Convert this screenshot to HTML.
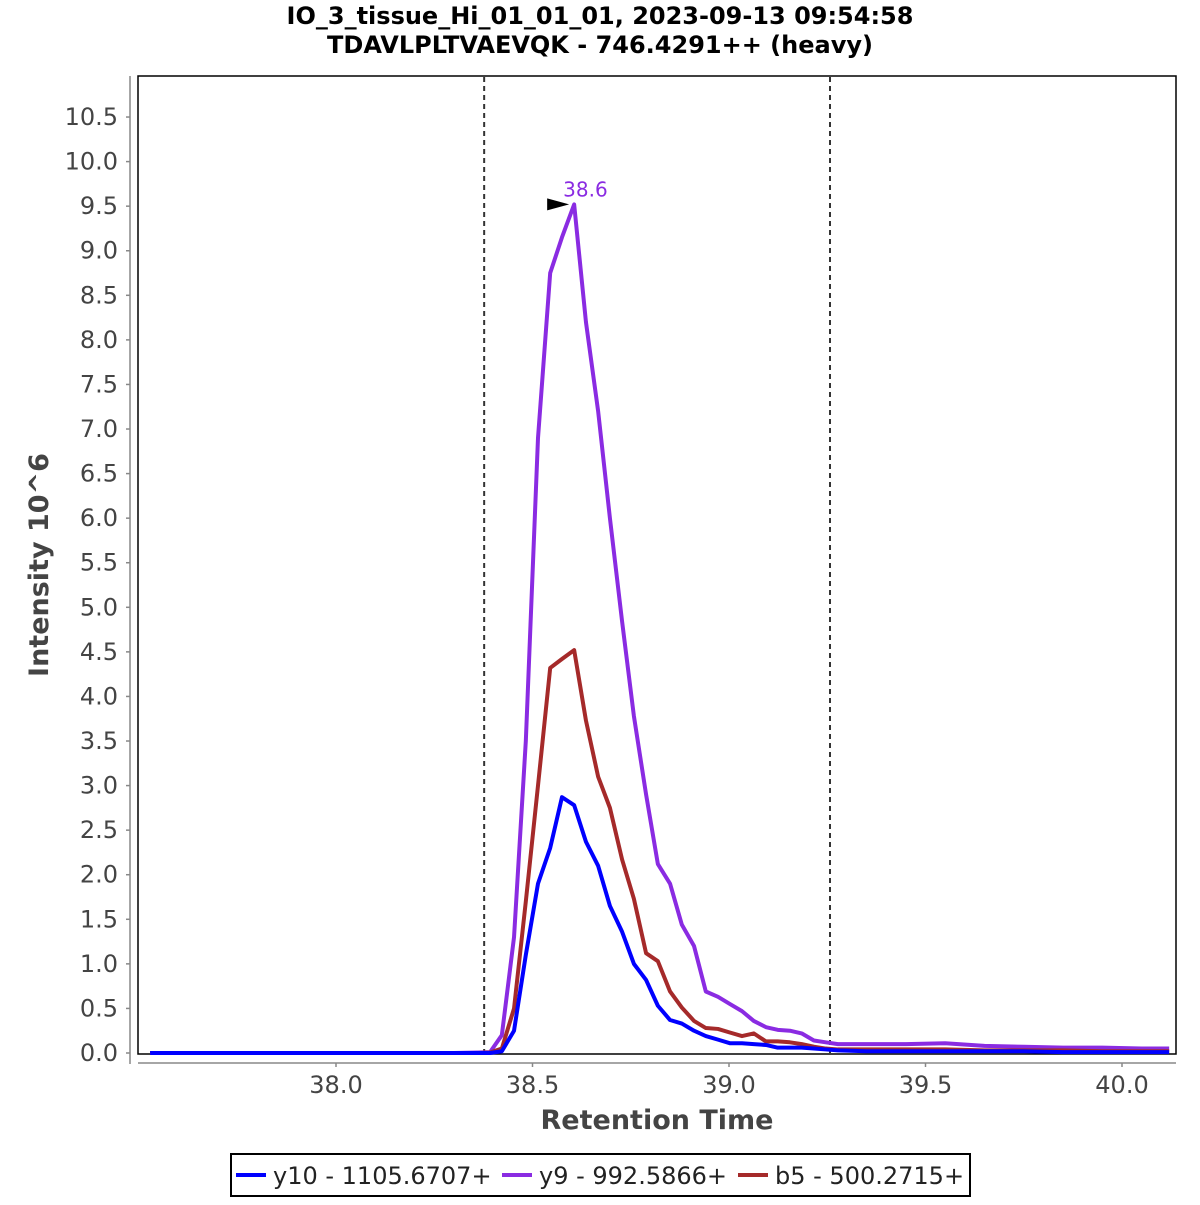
<!DOCTYPE html>
<html><head><meta charset="utf-8"><style>
body{margin:0;background:#fff;width:1200px;height:1200px;overflow:hidden}
svg text{font-family:"DejaVu Sans","Liberation Sans",sans-serif}
</style></head><body>
<svg id="chart" width="1200" height="1200" xmlns="http://www.w3.org/2000/svg">
<text x="600" y="24" text-anchor="middle" font-size="24" font-weight="bold">IO_3_tissue_Hi_01_01_01, 2023-09-13 09:54:58</text>
<text x="600" y="53" text-anchor="middle" font-size="24" font-weight="bold">TDAVLPLTVAEVQK - 746.4291++ (heavy)</text>
<rect x="138" y="76" width="1038" height="978" fill="#fff" stroke="#000" stroke-width="1.5"/>
<g id="yaxis"></g>
<g id="xaxis"></g>
<g id="series"></g>
<text transform="translate(48,565) rotate(-90)" text-anchor="middle" font-size="27" font-weight="bold" fill="#444">Intensity 10^6</text>
<text x="657" y="1129" text-anchor="middle" font-size="27" font-weight="bold" fill="#444">Retention Time</text>
<g>
<rect x="231" y="1154" width="739" height="42" fill="#fff" stroke="#000" stroke-width="2"/>
<line x1="236" y1="1175" x2="266" y2="1175" stroke="#0000ff" stroke-width="4"/>
<text x="273" y="1184" font-size="24" fill="#222">y10 - 1105.6707+</text>
<line x1="502" y1="1175" x2="532" y2="1175" stroke="#8a2be2" stroke-width="4"/>
<text x="539" y="1184" font-size="24" fill="#222">y9 - 992.5866+</text>
<line x1="738" y1="1175" x2="768" y2="1175" stroke="#a52a2a" stroke-width="4"/>
<text x="775" y="1184" font-size="24" fill="#222">b5 - 500.2715+</text>
</g>
</svg>
<script>
const times=[37.527,38.0,38.3,38.362,38.392,38.422,38.453,38.483,38.514,38.545,38.575,38.606,38.636,38.667,38.697,38.728,38.758,38.789,38.819,38.850,38.880,38.911,38.941,38.972,39.002,39.033,39.063,39.094,39.124,39.155,39.185,39.216,39.246,39.277,39.35,39.45,39.55,39.65,39.75,39.85,39.95,40.05,40.12];
const y10=[0,0,0,0,0,0.02,0.25,1.1,1.9,2.3,2.87,2.78,2.37,2.1,1.65,1.36,1.0,0.82,0.53,0.37,0.33,0.25,0.19,0.15,0.11,0.11,0.10,0.09,0.06,0.06,0.06,0.05,0.04,0.03,0.02,0.02,0.02,0.02,0.02,0.01,0.01,0.01,0.01];
const y9=[0,0,0,0.005,0.01,0.2,1.3,3.5,6.9,8.75,9.15,9.52,8.2,7.2,6.0,4.84,3.78,2.9,2.12,1.9,1.44,1.2,0.69,0.63,0.55,0.47,0.36,0.29,0.26,0.25,0.22,0.14,0.12,0.10,0.10,0.10,0.11,0.08,0.07,0.06,0.06,0.05,0.05];
const b5=[0,0,0,0,0.005,0.05,0.5,1.7,3.0,4.32,4.42,4.52,3.73,3.1,2.75,2.17,1.73,1.12,1.03,0.69,0.51,0.36,0.28,0.27,0.23,0.19,0.22,0.13,0.13,0.12,0.10,0.07,0.05,0.04,0.04,0.04,0.04,0.03,0.03,0.03,0.02,0.02,0.02];
const yTicks=[0,0.5,1,1.5,2,2.5,3,3.5,4,4.5,5,5.5,6,6.5,7,7.5,8,8.5,9,9.5,10,10.5];
const xTicks=[38.0,38.5,39.0,39.5,40.0];
const boundaries=[38.377,39.257];
const peakTime=38.606, peakValue=9.52, peakLabel="38.6";
const NS="http://www.w3.org/2000/svg";
function X(t){return 336+(t-38.0)*393;}
function Y(v){return 1053-v*89.14;}
function mk(tag,attrs,parent,txt){const e=document.createElementNS(NS,tag);for(const k in attrs)e.setAttribute(k,attrs[k]);if(txt!==undefined)e.textContent=txt;parent.appendChild(e);return e;}
const ya=document.getElementById('yaxis'),xa=document.getElementById('xaxis'),sg=document.getElementById('series');
mk('line',{x1:130,y1:76,x2:130,y2:1064,stroke:'#888','stroke-width':1.5},ya);
yTicks.forEach(v=>{
  mk('line',{x1:126,y1:Y(v),x2:130,y2:Y(v),stroke:'#888','stroke-width':1.5},ya);
  const t=mk('text',{x:118,y:Y(v)+8,'text-anchor':'end','font-size':24,fill:'#444'},ya,v.toFixed(1));
  
  
});
mk('line',{x1:138,y1:1063,x2:1176,y2:1063,stroke:'#888','stroke-width':1.5},xa);
xTicks.forEach(v=>{
  mk('line',{x1:X(v),y1:1063,x2:X(v),y2:1067,stroke:'#888','stroke-width':1.5},xa);
  const t=mk('text',{x:X(v),y:1093,'text-anchor':'middle','font-size':24,fill:'#444'},xa,v.toFixed(1));
  
  
});
boundaries.forEach(b=>{
  const l=mk('line',{x1:X(b),y1:77,x2:X(b),y2:1053,stroke:'#333','stroke-width':2,'stroke-dasharray':'5,4'},sg);
  
  
});
function line(vals,color,name){
  const p=mk('polyline',{points:times.map((t,i)=>X(t)+','+Y(vals[i])).join(' '),fill:'none',stroke:color,'stroke-width':4,'stroke-linejoin':'round'},sg);
  
  
}
line(y9,'#8a2be2','series-y9');
line(b5,'#a52a2a','series-b5');
line(y10,'#0000ff','series-y10');
const px=X(peakTime),py=Y(peakValue);
const arr=mk('polygon',{points:(px-27)+','+(py-6)+' '+(px-5)+','+py+' '+(px-27)+','+(py+6),fill:'#000'},sg);


const pl=mk('text',{x:px-11,y:py-8,'font-size':20,fill:'#8a2be2'},sg,peakLabel);


</script>
</body></html>
